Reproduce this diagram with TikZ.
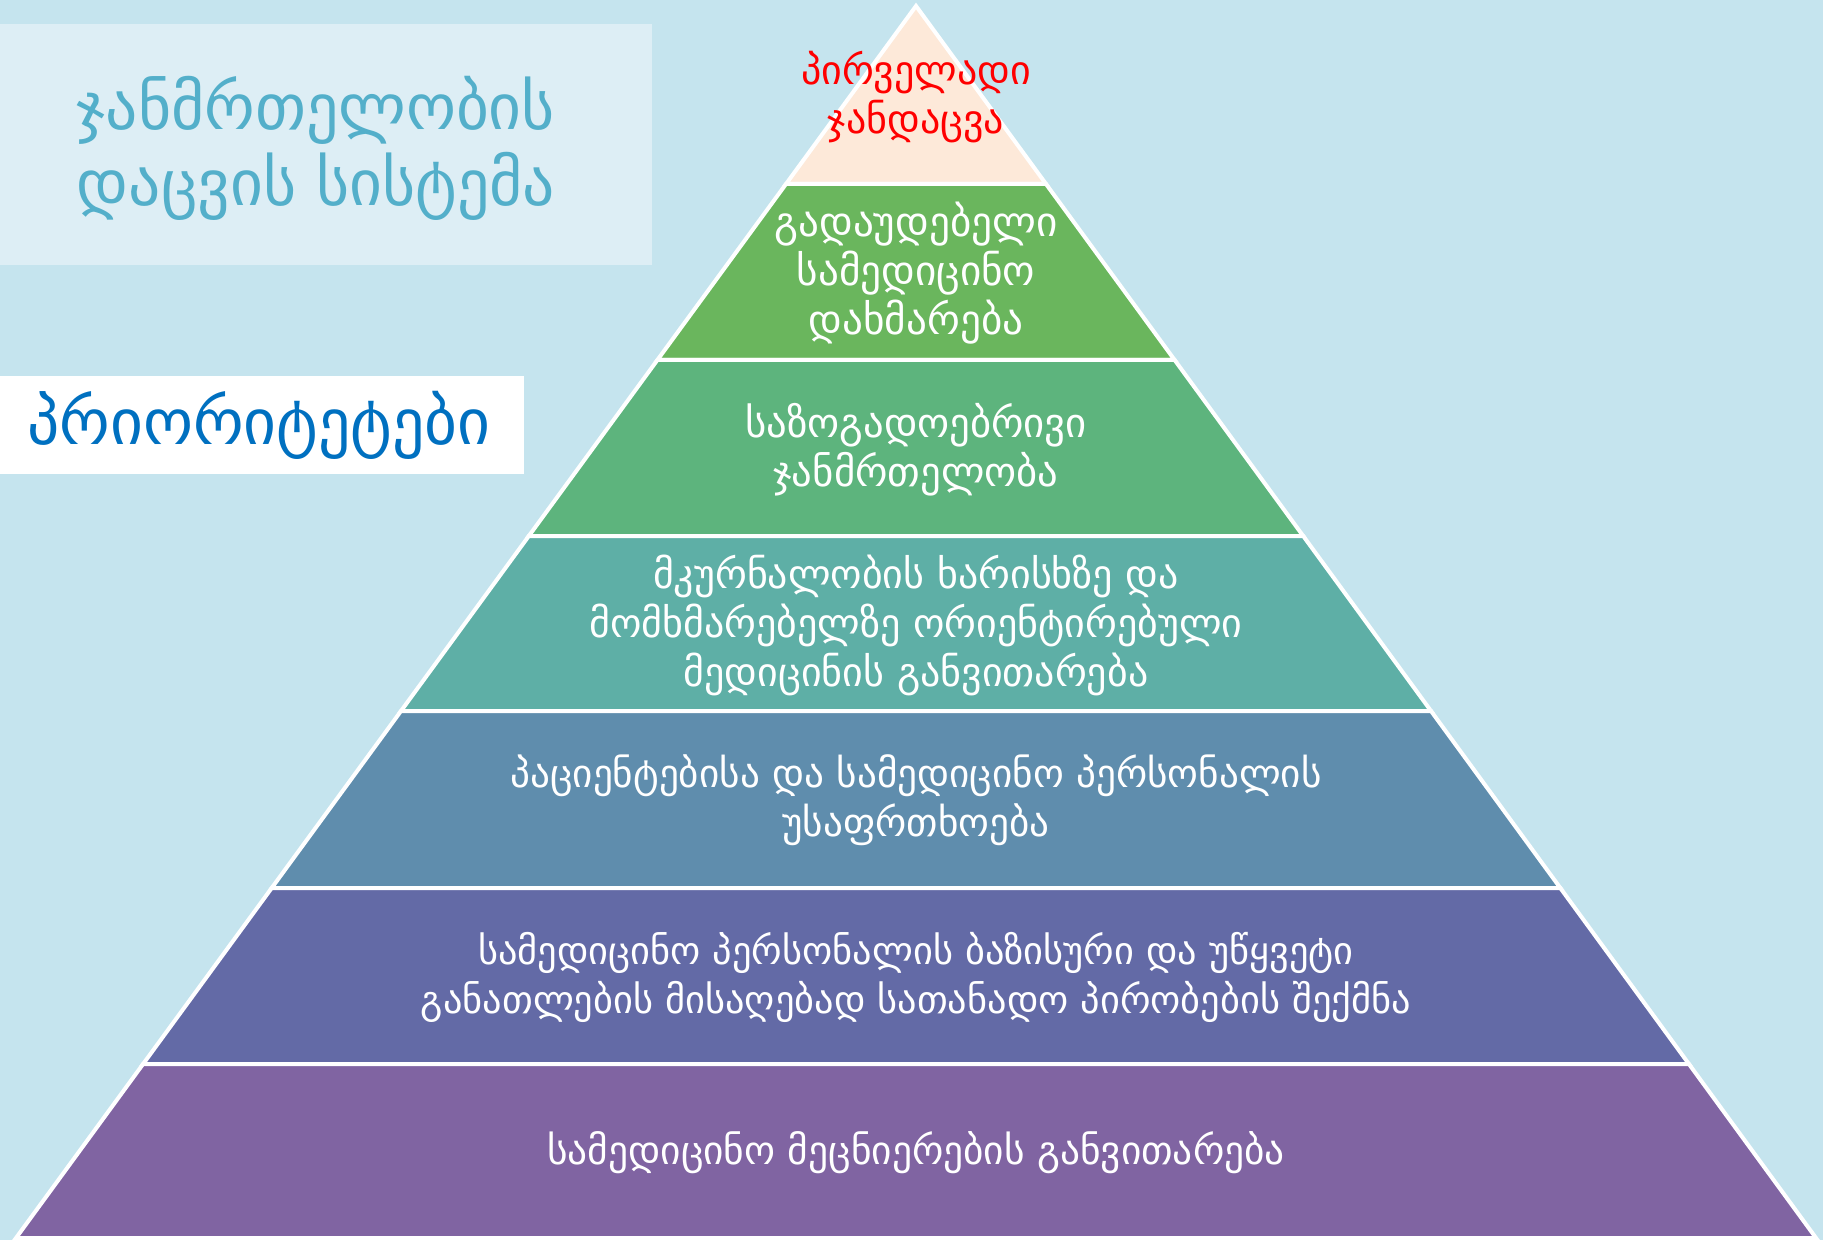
\documentclass[tikz,border=0pt]{standalone}
\usepackage{fontspec}
\setmainfont{DejaVu Sans}
\usetikzlibrary{calc,positioning}
\definecolor{bgblue}{HTML}{C5E4EE}
\definecolor{titlebox}{HTML}{DDEEF5}
\definecolor{titleblue}{HTML}{53AFCA}
\definecolor{prioblue}{HTML}{0070C0}
\definecolor{layA}{HTML}{FDE9D9}
\definecolor{layB}{HTML}{6AB65D}
\definecolor{layC}{HTML}{5DB47D}
\definecolor{layD}{HTML}{5EAFA6}
\definecolor{layE}{HTML}{5F8DAD}
\definecolor{layF}{HTML}{636AA6}
\definecolor{layG}{HTML}{8064A2}
\tikzset{
    layer/.style={draw=white, line width=2pt, line join=miter},
    layertext/.style={text=white, align=center, inner sep=0pt,
        font=\fontsize{20}{24.5}\selectfont},
    headtext/.style={align=center, inner sep=0pt,
        font=\fontsize{31.8}{38}\selectfont},
}

\begin{document}
\begin{tikzpicture}[x=0.5pt,y=0.5pt,yscale=-1,xscale=1]
%Background
\fill[bgblue] (0,0) rectangle (1823,1240);
%Title box
\fill[titlebox] (0,24) rectangle (652,265);
\fill[white] (0,376) rectangle (524,474);
%Pyramid layers
\draw[layer, fill=layA] (916,6) -- (786,184) -- (1046,184) -- cycle ;
\draw[layer, fill=layB] (786,184) -- (657.4,360) -- (1174.6,360) -- (1046,184) -- cycle ;
\draw[layer, fill=layC] (657.4,360) -- (528.8,536) -- (1303.2,536) -- (1174.6,360) -- cycle ;
\draw[layer, fill=layD] (528.8,536) -- (401,711) -- (1431,711) -- (1303.2,536) -- cycle ;
\draw[layer, fill=layE] (401,711) -- (271.7,888) -- (1560.3,888) -- (1431,711) -- cycle ;
\draw[layer, fill=layF] (271.7,888) -- (143.1,1064) -- (1688.9,1064) -- (1560.3,888) -- cycle ;
\draw[layer, fill=layG] (143.1,1064) -- (16,1238) -- (1816,1238) -- (1688.9,1064) -- cycle ;
%Headings
\node[headtext, text=titleblue] (title) at (316,148) {ჯანმრთელობის\\დაცვის სისტემა};
\node[headtext, text=prioblue] (prio) at (259,425) {პრიორიტეტები};
%Layer labels
\node[layertext, text=red] (primary) at (916,97.5) {პირველადი\\ჯანდაცვა};
\node[layertext, font=\fontsize{20.6}{24.5}\selectfont] (emergency) at (916,273) {გადაუდებელი\\სამედიცინო\\დახმარება};
\node[layertext, font=\fontsize{20.4}{24.5}\selectfont] (public) at (916,449.5) {საზოგადოებრივი\\ჯანმრთელობა};
\node[layertext] (quality) at (916,625) {მკურნალობის ხარისხზე  და\\მომხმარებელზე ორიენტირებული\\მედიცინის განვითარება};
\node[layertext, font=\fontsize{19.6}{24.5}\selectfont] (safety) at (916,800) {პაციენტებისა და სამედიცინო პერსონალის\\უსაფრთხოება};
\node[layertext, font=\fontsize{19.2}{24.5}\selectfont] (education) at (916,977.5) {სამედიცინო პერსონალის ბაზისური და უწყვეტი\\განათლების მისაღებად სათანადო პირობების შექმნა};
\node[layertext, font=\fontsize{19.7}{24.5}\selectfont] (science) at (916,1153) {სამედიცინო მეცნიერების განვითარება};
\end{tikzpicture}
\end{document}
